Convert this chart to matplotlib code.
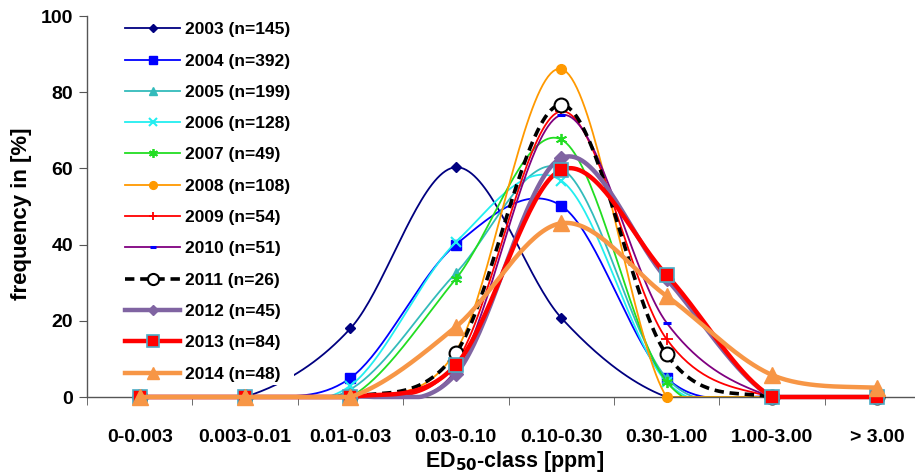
import numpy as np
import matplotlib
matplotlib.use("Agg")
from matplotlib import pyplot as plt
from matplotlib.lines import Line2D

plt.rcParams['font.family'] = ['Liberation Sans', 'DejaVu Sans']
plt.rcParams['font.weight'] = 'bold'

categories = ['0-0.003', '0.003-0.01', '0.01-0.03', '0.03-0.10',
              '0.10-0.30', '0.30-1.00', '1.00-3.00', '> 3.00']

labels = ['2003 (n=145)', '2004 (n=392)', '2005 (n=199)', '2006 (n=128)',
          '2007 (n=49)', '2008 (n=108)', '2009 (n=54)', '2010 (n=51)',
          '2011 (n=26)', '2012 (n=45)', '2013 (n=84)', '2014 (n=48)']

y2003 = [0, 0, 18, 60.3, 20.8, 0, 0, 0]
y2004 = [0, 0, 5, 40, 50.2, 5, 0, 0]
y2005 = [0, 0, 2, 32.5, 60, 5, 0, 0]
y2006 = [0, 0, 3, 40.6, 56.8, 4, 0, 0]
y2007 = [0, 0, 0, 31, 67.6, 4, 0, 0]
y2008 = [0, 0, 0, 12, 86.1, 0, 0, 0]
y2009 = [0, 0, 0, 9, 75, 15.2, 0, 0]
y2010 = [0, 0, 0, 7, 74, 19.5, 0, 0]
y2011 = [0, 0, 0, 11.5, 76.7, 11.2, 0, 0]
y2012 = [0, 0, 0, 6, 62.7, 31, 0, 0]
y2013 = [0, 0, 0, 8.4, 59.6, 32, 0, 0]
y2014 = [0, 0, 0, 18.4, 45.6, 26.5, 5.8, 2.4]

series = [y2003, y2004, y2005, y2006, y2007, y2008,
          y2009, y2010, y2011, y2012, y2013, y2014]

# style: line colour, lw, linestyle, marker, ms, face, edge, mew
styles = [
    ('#000080', 1.3, '-', 'D', 5, '#000080', '#000080', 1),
    ('#0000FF', 1.3, '-', 's', 7, '#0000FF', '#0000FF', 1),
    ('#33BBBB', 1.3, '-', '^', 7, '#33BBBB', '#33BBBB', 1),
    ('#22EEF0', 1.3, '-', 'x', 7, '#22EEF0', '#22EEF0', 1.5),
    ('#22DD22', 1.3, '-', (6, 2, 0), 8, '#22DD22', '#22DD22', 1.3),
    ('#FF9900', 1.3, '-', 'o', 7, '#FF9900', '#FF9900', 1),
    ('#FF0000', 1.3, '-', '+', 8, '#FF0000', '#FF0000', 1.3),
    ('#800080', 1.3, '-', '_', 6, '#0000FF', '#0000FF', 2.2),
    ('#000000', 2.6, (0, (2.6, 1.6)), 'o', 10, 'white', '#000000', 1.5),
    ('#8064A2', 3.2, '-', 'D', 7, '#8064A2', '#8064A2', 1),
    ('#FF0000', 3.2, '-', 's', 10, '#FF0000', '#4BACC6', 1.2),
    ('#F79646', 3.2, '-', '^', 11, '#F79646', '#F79646', 1),
]


def smooth(yv, n=40):
    # Excel-like smoothed line: cubic bezier with control points from neighbours
    x = np.arange(len(yv), dtype=float)
    y = np.array(yv, dtype=float)
    px = np.concatenate([[x[0]], x, [x[-1]]])
    py = np.concatenate([[y[0]], y, [y[-1]]])
    xs, ys = [], []
    t = np.linspace(0, 1, n, endpoint=False)
    for i in range(len(x) - 1):
        p0 = np.array([px[i + 1], py[i + 1]])
        p3 = np.array([px[i + 2], py[i + 2]])
        c1 = p0 + (p3 - np.array([px[i], py[i]])) / 6
        c2 = p3 - (np.array([px[i + 3], py[i + 3]]) - p0) / 6
        b = ((1 - t) ** 3)[:, None] * p0 + (3 * (1 - t) ** 2 * t)[:, None] * c1 \
            + (3 * (1 - t) * t ** 2)[:, None] * c2 + (t ** 3)[:, None] * p3
        xs.append(b[:, 0])
        ys.append(b[:, 1])
    xs.append([x[-1]])
    ys.append([y[-1]])
    return np.concatenate(xs), np.maximum(np.concatenate(ys), 0)


fig = plt.figure(figsize=(9.15, 4.73), dpi=100)
ax = fig.add_axes([87 / 915, 1 - 397 / 473, 843 / 915, 381 / 473])

xpos = np.arange(len(categories))
handles = []
for k, (yv, st) in enumerate(zip(series, styles)):
    col, lw, ls, mk, ms, fc, ec, mew = st
    sx, sy = smooth(yv)
    ax.plot(sx, sy, color=col, lw=lw, ls=ls, zorder=2 + k * 0.1, clip_on=False,
            solid_capstyle='butt')
    ax.plot(xpos, yv, ls='none', marker=mk, ms=ms, mfc=fc, mec=ec, mew=mew,
            zorder=2.05 + k * 0.1, clip_on=False)
    handles.append(Line2D([], [], color=col, lw=lw, ls=ls, marker=mk, ms=ms,
                          mfc=fc, mec=ec, mew=mew))

ax.set_xlim(-0.5, 7.5)
ax.set_ylim(0, 100)
ax.set_yticks(range(0, 101, 20))
ax.set_xticks(xpos)
ax.set_xticklabels(categories)
ax.set_xticks(np.arange(-0.5, 8, 1), minor=True)
ax.tick_params(axis='x', which='major', length=0, pad=23, labelsize=14)
ax.tick_params(axis='x', which='minor', length=6, direction='out', color='#555555')
ax.tick_params(axis='y', length=6, direction='out', labelsize=14, pad=4,
               color='#555555')
for lab in ax.get_xticklabels() + ax.get_yticklabels():
    lab.set_fontweight('bold')

for s in ['top', 'right']:
    ax.spines[s].set_visible(False)
for s in ['left', 'bottom']:
    ax.spines[s].set_color('#555555')
    ax.spines[s].set_linewidth(1)

fig.text(22 / 915, 1 - 214 / 473, 'frequency in [%]', rotation=90, ha='center',
         va='center', fontsize=16, fontweight='bold')
fig.text(515 / 915, 1 - 461 / 473, 'ED$_{\\mathbf{50}}$-class [ppm]', ha='center',
         va='center', fontsize=15.5, fontweight='bold')

leg = ax.legend(handles, labels, loc='upper left',
                bbox_to_anchor=(113 / 915, 1 - 10 / 473),
                bbox_transform=fig.transFigure, frameon=True, fancybox=False,
                edgecolor='none', facecolor='white', framealpha=1,
                handlelength=3.16, handletextpad=0.3, labelspacing=0.93,
                borderpad=0.2, markerscale=0.8,
                prop={'size': 12.5, 'weight': 'bold'})
leg.set_zorder(10)

fig.savefig('out.png', dpi=100)
